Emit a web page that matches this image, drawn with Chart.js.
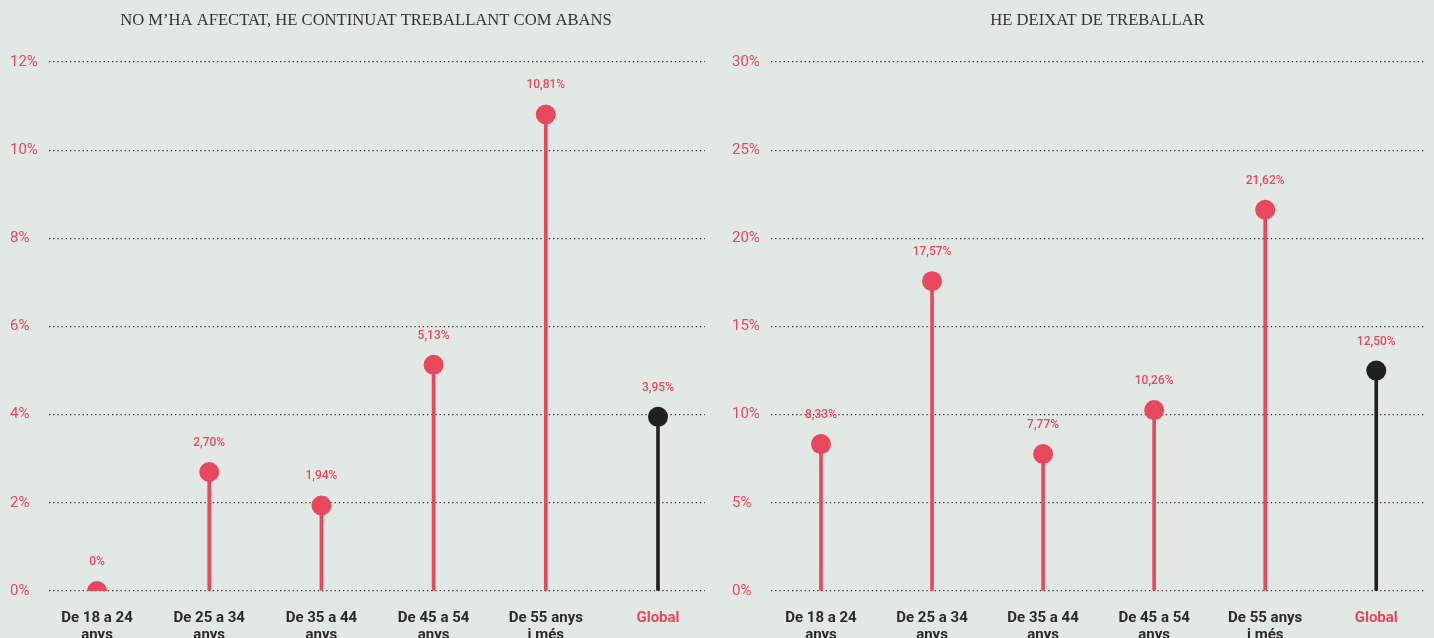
<!DOCTYPE html>
<html>
<head>
<meta charset="utf-8">
<script src="https://cdn.jsdelivr.net/npm/chart.js@4.4.1/dist/chart.umd.min.js"></script>
<style>
  html, body { margin: 0; padding: 0; background: #e2e8e4; }
  #wrap { position: relative; width: 1434px; height: 638px; overflow: hidden; background: #e2e8e4; }
  .box { position: absolute; top: 0; height: 638px; }
  #b1 { left: 0; width: 717px; }
  #b2 { left: 717px; width: 717px; }
</style>
</head>
<body>
<div id="wrap">
  <div class="box" id="b1"><canvas id="c1"></canvas></div>
  <div class="box" id="b2"><canvas id="c2"></canvas></div>
</div>
<script>
// ---- Data ----
const categories = [
  ['De 18 a 24', 'anys'],
  ['De 25 a 34', 'anys'],
  ['De 35 a 44', 'anys'],
  ['De 45 a 54', 'anys'],
  ['De 55 anys', 'i més'],
  'Global'
];
const titleLeft = 'NO M\u2019HA AFECTAT, HE CONTINUAT TREBALLANT COM ABANS';
const titleRight = 'HE DEIXAT DE TREBALLAR';
const valuesLeft = [0, 2.70, 1.94, 5.13, 10.81, 3.95];
const valuesRight = [8.33, 17.57, 7.77, 10.26, 21.62, 12.50];
const yTicksLeft = [0, 2, 4, 6, 8, 10, 12];
const yTicksRight = [0, 5, 10, 15, 20, 25, 30];

// ---- Styles ----
const RED = '#e8485e';
const BLACK = '#231f20';
const DARK = '#2b2b2b';

function fmt(v) {
  return v === 0 ? '0%' : v.toFixed(2).replace('.', ',') + '%';
}

const overlayPlugin = {
  id: 'overlay',
  afterDatasetsDraw(chart, args, opts) {
    const ctx = chart.ctx;
    const ca = chart.chartArea;
    ctx.save();
    // title
    ctx.font = '16.6px "Liberation Serif", serif';
    ctx.fillStyle = '#333';
    ctx.textAlign = 'center';
    ctx.textBaseline = 'middle';
    ctx.fillText(opts.title, (ca.left + ca.right) / 2 + opts.titleShift, 21);
    // value labels
    const meta = chart.getDatasetMeta(0);
    ctx.font = '500 12px Roboto, sans-serif';
    ctx.fillStyle = RED;
    meta.data.forEach((pt, i) => {
      ctx.fillText(fmt(opts.values[i]), pt.x, pt.y - 29);
    });
    ctx.restore();
  }
};

function makeChart(id, values, yTicks, title, titleShift, padLeft, padRight, xmin, xmax) {
  const n = values.length;
  const colors = values.map((v, i) => i === n - 1 ? BLACK : RED);
  const pts = values.map((v, i) => ({ x: i, y: v }));
  return new Chart(document.getElementById(id), {
    type: 'bar',
    data: {
      datasets: [
        {
          type: 'scatter',
          data: pts,
          pointRadius: 10,
          pointHoverRadius: 10,
          pointBackgroundColor: colors,
          pointBorderWidth: 0,
          showLine: false
        },
        {
          type: 'bar',
          data: pts,
          backgroundColor: colors,
          barThickness: 3,
          borderWidth: 0
        }
      ]
    },
    options: {
      responsive: true,
      maintainAspectRatio: false,
      animation: false,
      layout: { padding: { left: padLeft, right: padRight, top: 62, bottom: 0 } },
      plugins: {
        legend: { display: false },
        tooltip: { enabled: false },
        overlay: { title: title, values: values, titleShift: titleShift }
      },
      scales: {
        x: {
          type: 'linear',
          offset: false,
          min: xmin,
          max: xmax,
          grid: { display: false, drawTicks: false },
          border: { display: false },
          afterBuildTicks(scale) {
            scale.ticks = categories.map((c, i) => ({ value: i }));
          },
          afterFit(scale) { scale.height = 47; },
          ticks: {
            autoSkip: false,
            maxRotation: 0,
            padding: 19,
            font: { family: 'Roboto, sans-serif', size: 15, weight: 'bold', lineHeight: 1.1 },
            color: (c) => (c.index === categories.length - 1 ? RED : DARK),
            callback: (v) => categories[v]
          }
        },
        y: {
          min: yTicks[0],
          max: yTicks[yTicks.length - 1],
          afterBuildTicks(scale) {
            scale.ticks = yTicks.map(v => ({ value: v }));
          },
          afterFit(scale) { scale.width = 39; },
          grid: { color: '#333333', lineWidth: 1.3, drawTicks: false },
          border: { display: false, dash: [1.3, 2.9] },
          ticks: {
            crossAlign: 'far',
            padding: 0,
            color: RED,
            font: { family: 'Roboto, sans-serif', size: 15, weight: '400' },
            callback: (v) => v + '%'
          }
        }
      }
    },
    plugins: [overlayPlugin]
  });
}

makeChart('c1', valuesLeft, yTicksLeft, titleLeft, -11, 10, 12, -0.428, 5.419);
makeChart('c2', valuesRight, yTicksRight, titleRight, 0, 15, 6, -0.45, 5.43);
</script>
</body>
</html>
